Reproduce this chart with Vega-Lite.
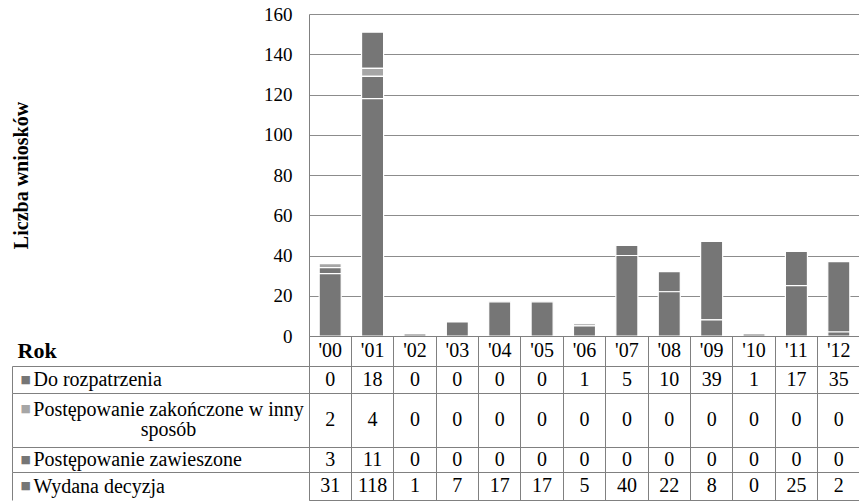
{
  "$schema": "https://vega.github.io/schema/vega-lite/v6.json",
  "padding": {"left": 11, "top": 5, "right": 0, "bottom": 0},
  "spacing": 0,
  "bounds": "flush",
  "data": {
    "values": [
      {"rok": "'00", "seria": "Do rozpatrzenia", "wartosc": 0},
      {"rok": "'01", "seria": "Do rozpatrzenia", "wartosc": 18},
      {"rok": "'02", "seria": "Do rozpatrzenia", "wartosc": 0},
      {"rok": "'03", "seria": "Do rozpatrzenia", "wartosc": 0},
      {"rok": "'04", "seria": "Do rozpatrzenia", "wartosc": 0},
      {"rok": "'05", "seria": "Do rozpatrzenia", "wartosc": 0},
      {"rok": "'06", "seria": "Do rozpatrzenia", "wartosc": 1},
      {"rok": "'07", "seria": "Do rozpatrzenia", "wartosc": 5},
      {"rok": "'08", "seria": "Do rozpatrzenia", "wartosc": 10},
      {"rok": "'09", "seria": "Do rozpatrzenia", "wartosc": 39},
      {"rok": "'10", "seria": "Do rozpatrzenia", "wartosc": 1},
      {"rok": "'11", "seria": "Do rozpatrzenia", "wartosc": 17},
      {"rok": "'12", "seria": "Do rozpatrzenia", "wartosc": 35},
      {"rok": "'00", "seria": "Postępowanie zakończone w inny sposób", "wartosc": 2},
      {"rok": "'01", "seria": "Postępowanie zakończone w inny sposób", "wartosc": 4},
      {"rok": "'02", "seria": "Postępowanie zakończone w inny sposób", "wartosc": 0},
      {"rok": "'03", "seria": "Postępowanie zakończone w inny sposób", "wartosc": 0},
      {"rok": "'04", "seria": "Postępowanie zakończone w inny sposób", "wartosc": 0},
      {"rok": "'05", "seria": "Postępowanie zakończone w inny sposób", "wartosc": 0},
      {"rok": "'06", "seria": "Postępowanie zakończone w inny sposób", "wartosc": 0},
      {"rok": "'07", "seria": "Postępowanie zakończone w inny sposób", "wartosc": 0},
      {"rok": "'08", "seria": "Postępowanie zakończone w inny sposób", "wartosc": 0},
      {"rok": "'09", "seria": "Postępowanie zakończone w inny sposób", "wartosc": 0},
      {"rok": "'10", "seria": "Postępowanie zakończone w inny sposób", "wartosc": 0},
      {"rok": "'11", "seria": "Postępowanie zakończone w inny sposób", "wartosc": 0},
      {"rok": "'12", "seria": "Postępowanie zakończone w inny sposób", "wartosc": 0},
      {"rok": "'00", "seria": "Postępowanie zawieszone", "wartosc": 3},
      {"rok": "'01", "seria": "Postępowanie zawieszone", "wartosc": 11},
      {"rok": "'02", "seria": "Postępowanie zawieszone", "wartosc": 0},
      {"rok": "'03", "seria": "Postępowanie zawieszone", "wartosc": 0},
      {"rok": "'04", "seria": "Postępowanie zawieszone", "wartosc": 0},
      {"rok": "'05", "seria": "Postępowanie zawieszone", "wartosc": 0},
      {"rok": "'06", "seria": "Postępowanie zawieszone", "wartosc": 0},
      {"rok": "'07", "seria": "Postępowanie zawieszone", "wartosc": 0},
      {"rok": "'08", "seria": "Postępowanie zawieszone", "wartosc": 0},
      {"rok": "'09", "seria": "Postępowanie zawieszone", "wartosc": 0},
      {"rok": "'10", "seria": "Postępowanie zawieszone", "wartosc": 0},
      {"rok": "'11", "seria": "Postępowanie zawieszone", "wartosc": 0},
      {"rok": "'12", "seria": "Postępowanie zawieszone", "wartosc": 0},
      {"rok": "'00", "seria": "Wydana decyzja", "wartosc": 31},
      {"rok": "'01", "seria": "Wydana decyzja", "wartosc": 118},
      {"rok": "'02", "seria": "Wydana decyzja", "wartosc": 1},
      {"rok": "'03", "seria": "Wydana decyzja", "wartosc": 7},
      {"rok": "'04", "seria": "Wydana decyzja", "wartosc": 17},
      {"rok": "'05", "seria": "Wydana decyzja", "wartosc": 17},
      {"rok": "'06", "seria": "Wydana decyzja", "wartosc": 5},
      {"rok": "'07", "seria": "Wydana decyzja", "wartosc": 40},
      {"rok": "'08", "seria": "Wydana decyzja", "wartosc": 22},
      {"rok": "'09", "seria": "Wydana decyzja", "wartosc": 8},
      {"rok": "'10", "seria": "Wydana decyzja", "wartosc": 0},
      {"rok": "'11", "seria": "Wydana decyzja", "wartosc": 25},
      {"rok": "'12", "seria": "Wydana decyzja", "wartosc": 2}
    ]
  },
  "vconcat": [
    {
      "width": 551,
      "height": 322,
      "view": {"stroke": null},
      "transform": [{"filter": "datum.wartosc > 0"}],
      "mark": {"type": "bar", "width": {"band": 0.52}, "stroke": "white", "strokeWidth": 1.2},
      "encoding": {
        "x": {
          "field": "rok", "type": "ordinal",
          "scale": {"paddingInner": 0, "paddingOuter": 0},
          "axis": {
            "title": "Rok", "titleX": -292, "titleY": 14, "titleAlign": "left", "titleBaseline": "middle",
            "titleAnchor": null, "titleFontSize": 22, "titleFontWeight": "bold", "titleColor": "black",
            "labels": false, "ticks": false,
            "domainColor": "#808080", "grid": false
          }
        },
        "y": {
          "field": "wartosc", "type": "quantitative", "stack": "zero",
          "scale": {"domain": [0, 160], "nice": false},
          "axis": {
            "title": "Liczba wniosków", "titleFontSize": 20, "titleFontWeight": "bold", "titleColor": "black", "titlePadding": 232,
            "values": [0, 20, 40, 60, 80, 100, 120, 140, 160],
            "labelFontSize": 19, "labelColor": "black", "labelPadding": 17, "ticks": false,
            "grid": true, "gridColor": "#8c8c8c", "domainColor": "#808080"
          }
        },
        "color": {
          "field": "seria", "type": "nominal",
          "scale": {
            "domain": ["Do rozpatrzenia", "Postępowanie zakończone w inny sposób", "Postępowanie zawieszone", "Wydana decyzja"],
            "range": ["#767676", "#a6a6a6", "#767676", "#767676"]
          },
          "legend": null
        },
        "order": {"field": "seria", "sort": "descending"}
      }
    },
    {
      "width": 551,
      "height": 30,
      "transform": [{"filter": "datum.seria === 'Wydana decyzja'"}],
      "mark": {"type": "text", "fontSize": 20, "color": "black"},
      "encoding": {
        "x": {"field": "rok", "type": "ordinal", "scale": {"type": "band", "paddingInner": 0, "paddingOuter": 0},
              "axis": {"title": null, "labels": false, "ticks": false, "domain": false, "grid": true, "bandPosition": 0, "gridColor": "#808080"}},
        "text": {"field": "rok", "type": "nominal"}
      }
    },
    {
      "width": 551,
      "height": 27,
      "transform": [{"filter": "datum.seria === 'Do rozpatrzenia'"}],
      "mark": {"type": "text", "fontSize": 20, "color": "black"},
      "encoding": {
        "x": {"field": "rok", "type": "ordinal", "scale": {"type": "band", "paddingInner": 0, "paddingOuter": 0},
              "axis": {"title": null, "labels": false, "ticks": false, "domain": false, "grid": true, "bandPosition": 0, "gridColor": "#808080"}},
        "y": {"field": "seria", "type": "nominal", "scale": {"type": "band", "paddingInner": 0, "paddingOuter": 0},
              "axis": {"offset": 297, "domain": true, "domainColor": "#808080", "ticks": true, "tickSize": -297, "bandPosition": 0, "tickColor": "#808080",
                       "labelExpr": "'■'", "labelFont": "DejaVu Sans", "labelFontSize": 11, "labelColor": "#767676", "labelAlign": "left", "labelBaseline": "middle", "labelPadding": 289,
                       "title": "Do rozpatrzenia", "titleAngle": 0, "titleAlign": "left", "titleBaseline": "middle", "titleX": 21, "titleY": 13.5,
                       "titleFontSize": 20, "titleFontWeight": "normal", "titleColor": "black"}},
        "text": {"field": "wartosc", "type": "quantitative"}
      }
    },
    {
      "width": 551,
      "height": 54,
      "transform": [{"filter": "datum.seria === 'Postępowanie zakończone w inny sposób'"}],
      "mark": {"type": "text", "fontSize": 20, "color": "black"},
      "encoding": {
        "x": {"field": "rok", "type": "ordinal", "scale": {"type": "band", "paddingInner": 0, "paddingOuter": 0},
              "axis": {"title": null, "labels": false, "ticks": false, "domain": false, "grid": true, "bandPosition": 0, "gridColor": "#808080"}},
        "y": {"field": "seria", "type": "nominal", "scale": {"type": "band", "paddingInner": 0, "paddingOuter": 0},
              "axis": {"offset": 297, "domain": true, "domainColor": "#808080", "ticks": true, "tickSize": -297, "bandPosition": 0, "tickColor": "#808080",
                       "labelExpr": "'■'", "labelFont": "DejaVu Sans", "labelFontSize": 11, "labelColor": "#a6a6a6", "labelAlign": "left", "labelBaseline": "middle", "labelPadding": 289,
                       "labelOffset": -11,
                       "title": ["Postępowanie zakończone w inny", "sposób"], "titleAngle": 0, "titleAlign": "center", "titleBaseline": "middle", "titleX": 156, "titleY": 16,
                       "titleLineHeight": 20, "titleFontSize": 20, "titleFontWeight": "normal", "titleColor": "black"}},
        "text": {"field": "wartosc", "type": "quantitative"}
      }
    },
    {
      "width": 551,
      "height": 25,
      "transform": [{"filter": "datum.seria === 'Postępowanie zawieszone'"}],
      "mark": {"type": "text", "fontSize": 20, "color": "black"},
      "encoding": {
        "x": {"field": "rok", "type": "ordinal", "scale": {"type": "band", "paddingInner": 0, "paddingOuter": 0},
              "axis": {"title": null, "labels": false, "ticks": false, "domain": false, "grid": true, "bandPosition": 0, "gridColor": "#808080"}},
        "y": {"field": "seria", "type": "nominal", "scale": {"type": "band", "paddingInner": 0, "paddingOuter": 0},
              "axis": {"offset": 297, "domain": true, "domainColor": "#808080", "ticks": true, "tickSize": -297, "bandPosition": 0, "tickColor": "#808080",
                       "labelExpr": "'■'", "labelFont": "DejaVu Sans", "labelFontSize": 11, "labelColor": "#767676", "labelAlign": "left", "labelBaseline": "middle", "labelPadding": 289,
                       "title": "Postępowanie zawieszone", "titleAngle": 0, "titleAlign": "left", "titleBaseline": "middle", "titleX": 21, "titleY": 12.5,
                       "titleFontSize": 20, "titleFontWeight": "normal", "titleColor": "black"}},
        "text": {"field": "wartosc", "type": "quantitative"}
      }
    },
    {
      "width": 551,
      "height": 28,
      "transform": [{"filter": "datum.seria === 'Wydana decyzja'"}],
      "mark": {"type": "text", "fontSize": 20, "color": "black"},
      "encoding": {
        "x": {"field": "rok", "type": "ordinal", "scale": {"type": "band", "paddingInner": 0, "paddingOuter": 0},
              "axis": {"title": null, "labels": false, "ticks": false, "domain": false, "grid": true, "bandPosition": 0, "gridColor": "#808080"}},
        "y": {"field": "seria", "type": "nominal", "scale": {"type": "band", "paddingInner": 0, "paddingOuter": 0},
              "axis": {"offset": 297, "domain": true, "domainColor": "#808080", "ticks": true, "tickSize": -297, "bandPosition": 0, "tickColor": "#808080",
                       "labelExpr": "'■'", "labelFont": "DejaVu Sans", "labelFontSize": 11, "labelColor": "#767676", "labelAlign": "left", "labelBaseline": "middle", "labelPadding": 289,
                       "title": "Wydana decyzja", "titleAngle": 0, "titleAlign": "left", "titleBaseline": "middle", "titleX": 21, "titleY": 14,
                       "titleFontSize": 20, "titleFontWeight": "normal", "titleColor": "black"}},
        "text": {"field": "wartosc", "type": "quantitative"}
      }
    }
  ],
  "config": {
    "font": "Liberation Serif",
    "view": {"stroke": "#808080"},
    "axis": {"labelFont": "Liberation Serif", "titleFont": "Liberation Serif"},
    "text": {"font": "Liberation Serif"}
  }
}
